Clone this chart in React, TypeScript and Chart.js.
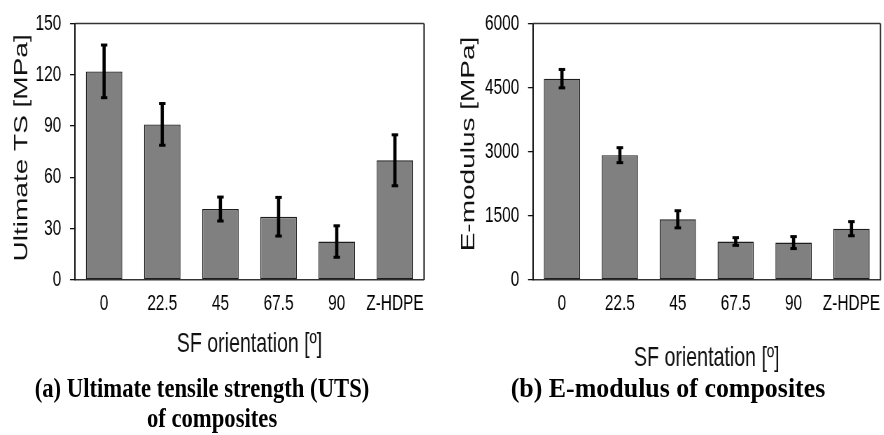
import React, { useEffect, useRef } from 'react';
import { Chart, registerables } from 'chart.js';

Chart.register(...registerables);

// ---- data ----
const categories = ['0', '22.5', '45', '67.5', '90', 'Z-HDPE'];
const utsValues = [122, 91, 41.5, 37, 22.5, 70];
const utsErrors = [15.4, 12.2, 7, 11.3, 9.2, 14.9];
const utsTicks = [0, 30, 60, 90, 120, 150];
const modValues = [4710, 2920, 1420, 900, 875, 1200];
const modErrors = [215, 175, 200, 90, 140, 165];
const modTicks = [0, 1500, 3000, 4500, 6000];

const S = 0.7; // horizontal condensation of the figure
const SANS = '"Liberation Sans", Arial, sans-serif';
const SERIF = '"Liberation Serif", "Times New Roman", serif';

const errorBarPlugin = {
  id: 'errorBars',
  afterDatasetsDraw(chart: any) {
    const ctx = chart.ctx;
    const yScale = chart.scales.y;
    chart.data.datasets.forEach((ds: any, di: number) => {
      const meta = chart.getDatasetMeta(di);
      meta.data.forEach((bar: any, i: number) => {
        const v = ds.data[i];
        const e = ds.errors[i];
        const yTop = yScale.getPixelForValue(v + e);
        const yBot = yScale.getPixelForValue(v - e);
        const stemW = 3.2 / S;
        const capW = 6.5 / S;
        const capH = 3;
        ctx.save();
        ctx.fillStyle = '#000';
        ctx.fillRect(bar.x - stemW / 2, yTop, stemW, yBot - yTop);
        ctx.fillRect(bar.x - capW / 2, yTop - capH / 2, capW, capH);
        ctx.fillRect(bar.x - capW / 2, yBot - capH / 2, capW, capH);
        ctx.restore();
      });
    });
  },
};

const framePlugin = {
  id: 'frame',
  afterDraw(chart: any) {
    const { ctx, chartArea } = chart;
    ctx.save();
    ctx.strokeStyle = '#333';
    ctx.lineWidth = 1.5;
    ctx.beginPath();
    ctx.moveTo(chartArea.left, chartArea.top);
    ctx.lineTo(chartArea.right, chartArea.top);
    ctx.stroke();
    ctx.lineWidth = 1.5 / S;
    ctx.beginPath();
    ctx.moveTo(chartArea.right, chartArea.top);
    ctx.lineTo(chartArea.right, chartArea.bottom);
    ctx.stroke();
    ctx.restore();
  },
};

type PanelProps = {
  imgLeft: number;
  imgWidth: number;
  height: number;
  plotLeft: number; // image px relative to panel
  plotRight: number; // image px relative to panel
  plotTop: number;
  plotBottom: number;
  values: number[];
  errors: number[];
  ticks: number[];
  yTitle: string;
  yTitlePad: number;
  xTitlePad: number;
};

function BarPanel(p: PanelProps) {
  const ref = useRef<HTMLCanvasElement>(null);
  const logicalW = Math.round(p.imgWidth / S);
  useEffect(() => {
    if (!ref.current) return;
    const leftL = p.plotLeft / S;
    const rightL = p.plotRight / S;
    const chart = new Chart(ref.current, {
      type: 'bar',
      data: {
        labels: categories,
        datasets: [
          {
            data: p.values,
            errors: p.errors,
            backgroundColor: '#808080',
            borderColor: '#1e1e1e',
            borderWidth: 1.4,
            borderSkipped: false,
            barPercentage: 0.626,
            categoryPercentage: 1,
          } as any,
        ],
      },
      options: {
        responsive: false,
        maintainAspectRatio: false,
        animation: false,
        layout: { padding: { left: 0, right: logicalW - rightL, top: p.plotTop, bottom: 0 } },
        plugins: { legend: { display: false }, tooltip: { enabled: false } },
        scales: {
          x: {
            grid: { display: false, drawTicks: false },
            border: { display: true, color: '#333', width: 1.5 },
            ticks: {
              font: { family: SANS, size: 22, lineHeight: 1.2 },
              color: '#000',
              padding: 11,
              maxRotation: 0,
              autoSkip: false,
            },
            title: {
              display: true,
              text: 'SF orientation [º]',
              font: { family: SANS, size: 28, lineHeight: 1.2 },
              color: '#111',
              padding: { top: 0, bottom: p.xTitlePad },
            },
            afterFit: (s: any) => {
              s.height = p.height - p.plotBottom;
            },
          },
          y: {
            min: 0,
            max: p.ticks[p.ticks.length - 1],
            afterBuildTicks: (s: any) => {
              s.ticks = p.ticks.map((v) => ({ value: v }));
            },
            grid: {
              display: true,
              drawOnChartArea: false,
              drawTicks: true,
              tickLength: 5 / S,
              color: '#111',
              lineWidth: 1.3,
            },
            border: { display: true, color: '#111', width: 1.4 / S },
            ticks: {
              font: { family: SANS, size: 22, lineHeight: 1 },
              color: '#000',
              padding: 12.5,
              callback: (v: any) => String(v),
            },
            title: {
              display: true,
              text: p.yTitle,
              font: { family: SANS, size: 28, lineHeight: 1.2 },
              color: '#111',
              padding: { top: p.yTitlePad, bottom: 0 },
            },
            afterFit: (s: any) => {
              s.width = leftL;
            },
          },
        },
      },
      plugins: [errorBarPlugin, framePlugin],
    });
    return () => chart.destroy();
  }, []);
  return (
    <div
      style={{
        position: 'absolute',
        left: p.imgLeft,
        top: 0,
        width: p.imgWidth,
        height: p.height,
        overflow: 'visible',
      }}
    >
      <canvas
        ref={ref}
        width={logicalW}
        height={p.height}
        style={{
          display: 'block',
          transform: `scaleX(${S})`,
          transformOrigin: '0 0',
        }}
      />
    </div>
  );
}

const captionStyle: React.CSSProperties = {
  position: 'absolute',
  fontFamily: SERIF,
  fontWeight: 'bold',
  fontSize: 27,
  lineHeight: '30px',
  textAlign: 'center',
  color: '#000',
  whiteSpace: 'nowrap',
  width: 440,
  transformOrigin: '50% 50%',
};

export default function App() {
  return (
    <div
      style={{
        position: 'absolute',
        left: 0,
        top: 0,
        width: 884,
        height: 435,
        overflow: 'hidden',
        background: '#fff',
      }}
    >
      <BarPanel
        imgLeft={0}
        imgWidth={440}
        height={380}
        plotLeft={75}
        plotRight={424}
        plotTop={17}
        plotBottom={280}
        values={utsValues}
        errors={utsErrors}
        ticks={utsTicks}
        yTitle=" Ultimate TS [MPa]"
        yTitlePad={14.9}
        xTitlePad={19}
      />
      <BarPanel
        imgLeft={440}
        imgWidth={448}
        height={380}
        plotLeft={93}
        plotRight={446}
        plotTop={12}
        plotBottom={280}
        values={modValues}
        errors={modErrors}
        ticks={modTicks}
        yTitle="  E-modulus [MPa]"
        yTitlePad={24.9}
        xTitlePad={5}
      />
      <div style={{ ...captionStyle, left: 202 - 220, top: 373, transform: 'scaleX(0.84)' }}>
        <div>(a) Ultimate tensile strength (UTS)</div>
        <div style={{ position: 'relative', left: 12 }}>of composites</div>
      </div>
      <div style={{ ...captionStyle, left: 668 - 220, top: 373, transform: 'scaleX(0.96)' }}>
        (b) E-modulus of composites
      </div>
    </div>
  );
}
